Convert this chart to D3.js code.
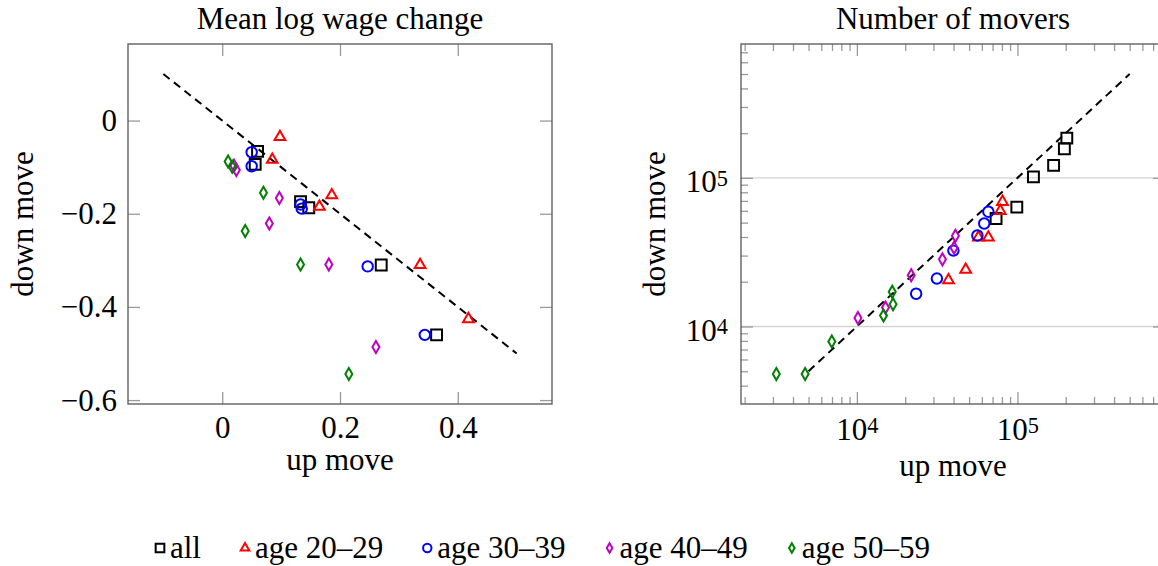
<!DOCTYPE html>
<html>
<head>
<meta charset="utf-8">
<script src="https://cdn.jsdelivr.net/npm/d3@7"></script>
<style>
  body { margin: 0; background: #fff; }
</style>
</head>
<body>
<svg id="chart" width="1158" height="566"></svg>
<script>
const seriesNames = ["all", "age 20–29", "age 30–39", "age 40–49", "age 50–59"];
const seriesColors = ["#000000", "#ff0000", "#0000ff", "#bf00bf", "#008000"];
const seriesMarks = ["square", "triangle", "circle", "diamond", "diamond"];

// mean log wage change, [up move, down move]
const wageAll  = [[0.060, -0.066], [0.056, -0.094], [0.133, -0.174], [0.147, -0.187], [0.270, -0.310], [0.364, -0.460]];
const wage2029 = [[0.098, -0.035], [0.085, -0.084], [0.186, -0.160], [0.165, -0.185], [0.336, -0.310], [0.418, -0.426]];
const wage3039 = [[0.050, -0.068], [0.050, -0.098], [0.133, -0.180], [0.135, -0.189], [0.247, -0.313], [0.344, -0.460]];
const wage4049 = [[0.024, -0.106], [0.020, -0.097], [0.097, -0.166], [0.080, -0.221], [0.181, -0.309], [0.261, -0.486]];
const wage5059 = [[0.010, -0.088], [0.017, -0.099], [0.070, -0.155], [0.039, -0.237], [0.133, -0.309], [0.215, -0.544]];
const wageDiag = [[-0.1, 0.1], [0.5, -0.5]];

// number of movers, [up move, down move]
const moversAll  = [[203000, 185000], [196000, 157000], [168000, 121500], [125800, 101600], [99100, 63500], [73600, 53300]];
const movers2029 = [[80700, 69000], [78200, 60000], [65900, 39700], [57100, 39700], [47600, 24100], [37200, 20500]];
const movers3039 = [[65900, 59200], [62100, 49300], [56300, 41000], [39900, 32400], [31500, 21000], [23400, 16600]];
const movers4049 = [[41100, 40800], [40300, 33900], [34100, 28300], [21800, 22100], [15070, 13400], [10150, 11400]];
const movers5059 = [[16600, 17100], [16800, 14100], [14650, 11850], [6980, 7920], [4760, 4790], [3150, 4790]];
const moversDiag = [[5000, 5000], [500000, 500000]];

const wageXTicks = [0, 0.2, 0.4];
const wageYTicks = [0, -0.2, -0.4, -0.6];
const moversTicks = [1e4, 1e5];

const FONT = "'Liberation Serif', 'Times New Roman', serif";
const FS = 31;
const svg = d3.select("#chart").attr("font-family", FONT);

// pgfplots style: enlarge limits by 10% on each side
function padLinear(vals) {
  const [a, b] = d3.extent(vals), r = b - a;
  return [a - 0.1 * r, b + 0.1 * r];
}
function padLog(vals) {
  const [a, b] = d3.extent(vals).map(Math.log10), r = b - a;
  return [10 ** (a - 0.1 * r), 10 ** (b + 0.1 * r)];
}

const symbolTypes = {square: d3.symbolSquare, triangle: d3.symbolTriangle, circle: d3.symbolCircle, diamond: d3.symbolDiamond};
const symbolSizes = {square: 118, triangle: 50, circle: 86, diamond: 42};
function markPath(kind, k = 1) {
  return d3.symbol(symbolTypes[kind], symbolSizes[kind] * k * k)();
}

function styleAxis(g) {
  g.select(".domain").remove();
  g.attr("font-family", FONT).attr("font-size", FS);
  g.selectAll(".tick line").attr("stroke", "#9a9a9a").attr("stroke-width", 1.3);
  g.selectAll(".tick text").attr("fill", "#000");
}

function drawPanel(p) {
  const {x, y, series, diag, title, box} = p;
  const g = svg.append("g");

  if (p.grid) {
    g.append("g").selectAll("line").data(p.grid).join("line")
      .attr("x1", box.left).attr("x2", box.right)
      .attr("y1", d => y(d)).attr("y2", d => y(d))
      .attr("stroke", "#d4d4d4").attr("stroke-width", 1.3);
  }

  // minor ticks (log axes only)
  if (p.xMinor) {
    g.append("g").attr("transform", `translate(0,${box.bottom})`)
      .call(d3.axisBottom(x).tickValues(p.xMinor).tickSize(-7).tickFormat("")).call(styleAxis);
    g.append("g").attr("transform", `translate(0,${box.top})`)
      .call(d3.axisTop(x).tickValues(p.xMinor).tickSize(-7).tickFormat("")).call(styleAxis);
  }
  if (p.yMinor) {
    g.append("g").attr("transform", `translate(${box.left},0)`)
      .call(d3.axisLeft(y).tickValues(p.yMinor).tickSize(-7).tickFormat("")).call(styleAxis);
    g.append("g").attr("transform", `translate(${box.right},0)`)
      .call(d3.axisRight(y).tickValues(p.yMinor).tickSize(-7).tickFormat("")).call(styleAxis);
  }

  const xb = g.append("g").attr("transform", `translate(0,${box.bottom})`)
    .call(d3.axisBottom(x).tickValues(p.xTicks).tickSize(-12).tickPadding(p.xPad).tickFormat(p.fmtX))
    .call(styleAxis);
  g.append("g").attr("transform", `translate(0,${box.top})`)
    .call(d3.axisTop(x).tickValues(p.xTicks).tickSize(-12).tickFormat("")).call(styleAxis);
  const yl = g.append("g").attr("transform", `translate(${box.left},0)`)
    .call(d3.axisLeft(y).tickValues(p.yTicks).tickSize(-12).tickPadding(p.yPad).tickFormat(p.fmtY))
    .call(styleAxis);
  g.append("g").attr("transform", `translate(${box.right},0)`)
    .call(d3.axisRight(y).tickValues(p.yTicks).tickSize(-12).tickFormat("")).call(styleAxis);

  if (p.sup) {
    [xb, yl].forEach(ax => ax.selectAll(".tick text").each(function(d) {
      const t = d3.select(this).text("10");
      t.append("tspan").attr("dy", "-0.3em").attr("font-size", "0.72em").text(Math.round(Math.log10(d)));
    }));
    yl.selectAll(".tick text").attr("dy", "0.45em");
  }

  g.append("rect")
    .attr("x", box.left).attr("y", box.top)
    .attr("width", box.right - box.left).attr("height", box.bottom - box.top)
    .attr("fill", "none").attr("stroke", "#555").attr("stroke-width", 1.3);

  g.append("path")
    .attr("d", d3.line().x(d => x(d[0])).y(d => y(d[1]))(diag))
    .attr("fill", "none").attr("stroke", "#000").attr("stroke-width", 2)
    .attr("stroke-dasharray", "8 5.5");

  series.forEach((s, i) => {
    g.append("g").selectAll("path").data(s).join("path")
      .attr("transform", d => `translate(${x(d[0])},${y(d[1])})`)
      .attr("d", markPath(seriesMarks[i]))
      .attr("fill", "none").attr("stroke", seriesColors[i]).attr("stroke-width", 2);
  });

  const cx = (box.left + box.right) / 2, cy = (box.top + box.bottom) / 2;
  g.append("text").attr("x", cx).attr("y", 29).attr("text-anchor", "middle")
    .attr("font-size", FS).text(title);
  g.append("text").attr("x", cx).attr("y", p.xLabelY).attr("text-anchor", "middle")
    .attr("font-size", FS).text("up move");
  g.append("text").attr("transform", `translate(${p.yLabelX},${cy}) rotate(-90)`)
    .attr("text-anchor", "middle").attr("font-size", FS).text("down move");
}

// left panel
const wageSeries = [wageAll, wage2029, wage3039, wage4049, wage5059];
const wagePts = wageSeries.flat().concat(wageDiag);
const boxL = {left: 128, right: 552, top: 44, bottom: 404};
const xW = d3.scaleLinear().domain(padLinear(wagePts.map(d => d[0]))).range([boxL.left, boxL.right]);
const yW = d3.scaleLinear().domain(padLinear(wagePts.map(d => d[1]))).range([boxL.bottom, boxL.top]);
const fmtW = d => d === 0 ? "0" : d3.format(".1f")(d);

drawPanel({
  x: xW, y: yW, series: wageSeries, diag: wageDiag, title: "Mean log wage change", box: boxL,
  xTicks: wageXTicks, yTicks: wageYTicks, fmtX: fmtW, fmtY: fmtW, xPad: 12, yPad: 11,
  xLabelY: 470, yLabelX: 33
});

// right panel
const moverSeries = [moversAll, movers2029, movers3039, movers4049, movers5059];
const moverPts = moverSeries.flat().concat(moversDiag);
const boxR = {left: 741, right: 1165, top: 44, bottom: 404};
const xM = d3.scaleLog().domain(padLog(moverPts.map(d => d[0]))).range([boxR.left, boxR.right]);
const yM = d3.scaleLog().domain(padLog(moverPts.map(d => d[1]))).range([boxR.bottom, boxR.top]);

function minorTicks(scale) {
  const [a, b] = scale.domain(), out = [];
  for (let k = 3; k <= 5; k++) for (let m = 2; m <= 9; m++) {
    const v = m * 10 ** k;
    if (v > a && v < b) out.push(v);
  }
  return out;
}

drawPanel({
  x: xM, y: yM, series: moverSeries, diag: moversDiag, title: "Number of movers", box: boxR,
  xTicks: moversTicks, yTicks: moversTicks, fmtX: d => d, fmtY: d => d, xPad: 14, yPad: 13,
  xMinor: minorTicks(xM), yMinor: minorTicks(yM), grid: moversTicks, sup: true,
  xLabelY: 476, yLabelX: 665
});

// legend
const legend = svg.append("g");
let lx = 160;
seriesNames.forEach((name, i) => {
  legend.append("path")
    .attr("transform", `translate(${lx},548)`)
    .attr("d", markPath(seriesMarks[i], 0.8))
    .attr("fill", "none").attr("stroke", seriesColors[i]).attr("stroke-width", 2);
  const t = legend.append("text").attr("x", lx + 10).attr("y", 558)
    .attr("font-size", FS).text(name);
  lx += 10 + t.node().getComputedTextLength() + 44;
});
</script>
</body>
</html>
